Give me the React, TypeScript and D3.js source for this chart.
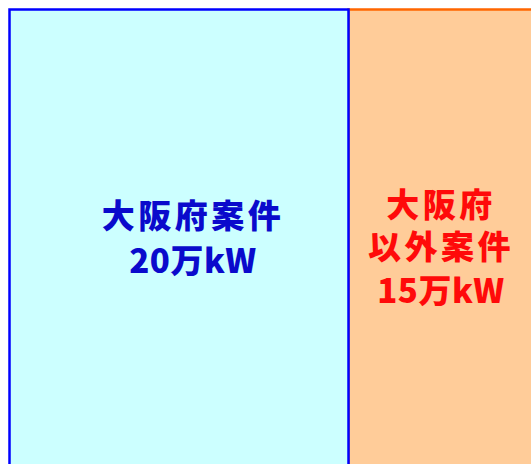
import React from "react";
import * as d3 from "d3";

const categories = ["大阪府案件", "大阪府以外案件"];
const values = [20, 15];
const labelLines = [["大阪府案件", "20万kW"], ["大阪府", "以外案件", "15万kW"]];
const fills = ["#CCFFFF", "#FFCC99"];
const strokes = ["#0000FF", "#FF6600"];
const textColors = ["#0A0ACC", "#FF0A0A"];

const W = 531, H = 464;

export default function App() {
  const data = categories.map((c, i) => ({ name: c, value: values[i], i }));
  const root = d3.hierarchy<any>({ children: data }).sum((d: any) => d.value ?? 0);
  const total = d3.sum(values);
  const layoutW = 339 * total / values[0];
  d3.treemap<any>().tile(d3.treemapDice).size([layoutW, 520]).padding(0)(root);
  const leaves = root.leaves() as any[];
  const ox = 9.5, oy = 9.5;
  const textPos = [
    { cx: 193, ys: [214, 259] },
    { cx: 441, ys: [203, 245, 289] },
  ];
  const order = [1, 0];
  return (
    <svg width={W} height={H} style={{ position: "absolute", left: 0, top: 0 }}>
      {order.map((k) => {
        const l = leaves[k];
        return (
          <rect key={k} x={ox + l.x0} y={oy + l.y0} width={l.x1 - l.x0} height={l.y1 - l.y0}
            fill={fills[k]} stroke={strokes[k]} strokeWidth={2.5} />
        );
      })}
      {leaves.map((l, k) => (
        <g key={"t" + k}>
          {labelLines[k].map((line, j) => {
            const numeric = /\d/.test(line);
            return (
              <text key={j} x={textPos[k].cx} y={textPos[k].ys[j]} textAnchor="middle" dominantBaseline="central"
                fontFamily="'Noto Sans CJK JP', sans-serif" fontWeight={900} fontSize={33}
                letterSpacing={numeric ? 0.5 : 3.5} fill={textColors[k]}>{line}</text>
            );
          })}
        </g>
      ))}
    </svg>
  );
}
